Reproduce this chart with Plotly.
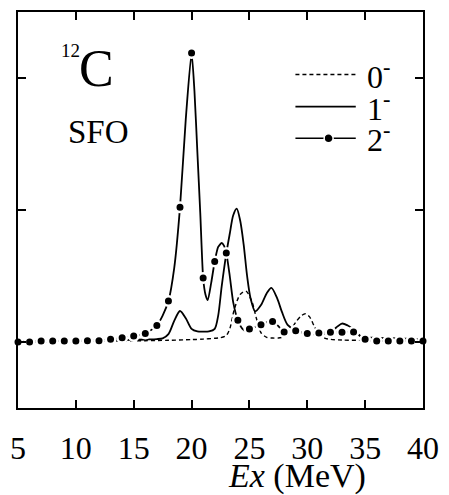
import plotly.graph_objects as go

# ---- data ----
# 0- strength (dashed)
e0 = [5, 8, 10, 12, 14, 16, 18, 20, 21, 22, 22.5, 23, 23.3, 23.7, 24.2, 24.7, 25.2, 25.6, 26, 26.5,
      27, 27.5, 28, 28.5, 29, 29.5, 29.85, 30.2, 30.6, 31, 31.5, 32, 33, 35, 37, 40]
s0 = [0.0, 0.002, 0.004, 0.006, 0.008, 0.01, 0.013, 0.018, 0.022, 0.028, 0.033, 0.05, 0.1, 0.25, 0.36,
      0.385, 0.31, 0.18, 0.07, 0.035, 0.03, 0.03, 0.04, 0.08, 0.15, 0.2, 0.214, 0.19, 0.12, 0.06, 0.03,
      0.02, 0.015, 0.012, 0.01, 0.008]

# 1- strength (solid)
e1 = [5, 7, 9, 11, 13, 15, 16, 17, 17.5, 18, 18.5, 19, 19.5, 20, 20.5, 21, 21.5, 22, 22.3, 22.6, 23,
      23.3, 23.6, 23.9, 24.2, 24.5, 24.8, 25.1, 25.5, 26, 26.5, 26.9, 27.4, 27.8, 28.3, 29, 30, 31, 32,
      32.5, 33, 33.5, 34, 34.6, 35, 36, 38, 40]
s1 = [0.005, 0.006, 0.008, 0.01, 0.012, 0.016, 0.019, 0.022, 0.028, 0.06, 0.16, 0.235, 0.18, 0.1, 0.08,
      0.078, 0.08, 0.1, 0.2, 0.42, 0.67, 0.82, 0.96, 1.01, 0.92, 0.74, 0.5, 0.33, 0.232, 0.28, 0.37, 0.41,
      0.33, 0.23, 0.13, 0.088, 0.063, 0.058, 0.07, 0.11, 0.14, 0.125, 0.096, 0.045, 0.035, 0.032, 0.027,
      0.02]

# 2- strength (line with dots at integer energies)
e2 = [5, 6, 7, 8, 9, 10, 11, 12, 13, 14, 15, 16, 16.5, 17, 17.5, 18, 18.5, 19, 19.5, 20, 20.25, 20.5,
      20.75, 21, 21.2, 21.4, 21.7, 22, 22.3, 22.6, 22.8, 23, 23.3, 23.6, 24, 24.4, 24.7, 25, 25.5, 26,
      26.5, 27, 27.5, 28, 28.5, 29, 29.5, 30, 31, 32, 33, 34, 34.5, 35, 36, 37, 38, 39, 40]
s2 = [0.0, 0.0, 0.008, 0.008, 0.008, 0.008, 0.009, 0.01, 0.02, 0.033, 0.045, 0.065, 0.09, 0.125, 0.2,
      0.31, 0.56, 1.02, 1.69, 2.19, 1.9, 1.44, 0.98, 0.485, 0.36, 0.317, 0.45, 0.61, 0.72, 0.75, 0.73,
      0.675, 0.5, 0.3, 0.165, 0.1, 0.085, 0.098, 0.115, 0.13, 0.15, 0.155, 0.12, 0.075, 0.078, 0.085,
      0.075, 0.065, 0.068, 0.073, 0.074, 0.076, 0.05, 0.02, 0.008, 0.008, 0.008, 0.008, 0.008]

x_ticks = [5, 10, 15, 20, 25, 30, 35, 40]
y_ticks = [0, 1, 2]
legend_labels = ["0<sup>-</sup>", "1<sup>-</sup>", "2<sup>-</sup>"]

FONT = "Liberation Serif, Times New Roman, serif"

# dots of the 2- curve: the integer energies of the same series
e2_dots = [e for e in e2 if float(e).is_integer()]
s2_dots = [s for e, s in zip(e2, s2) if float(e).is_integer()]

fig = go.Figure()
fig.add_trace(go.Scatter(x=e0, y=s0, mode="lines", line=dict(color="black", width=1.4, dash="4px,3px", shape="spline", smoothing=0.8), showlegend=False))
fig.add_trace(go.Scatter(x=e1, y=s1, mode="lines", line=dict(color="black", width=1.8, shape="spline", smoothing=0.8), showlegend=False))
fig.add_trace(go.Scatter(x=e2, y=s2, mode="lines", line=dict(color="black", width=1.8, shape="spline", smoothing=0.6), showlegend=False))
fig.add_trace(go.Scatter(x=e2_dots, y=s2_dots, mode="markers", cliponaxis=False,
                         marker=dict(color="black", size=9.5, line=dict(color="white", width=2.5)), showlegend=False))

# ---- manual legend ----
leg_x0, leg_x1 = 0.685, 0.834
leg_y = [0.842, 0.761, 0.681]
dashes = ["4px,3px", "solid", "solid"]
for yy, dsh in zip(leg_y, dashes):
    fig.add_shape(type="line", xref="paper", yref="paper", x0=leg_x0, x1=leg_x1, y0=yy, y1=yy,
                  line=dict(color="black", width=1.6, dash=dsh))
fig.add_shape(type="circle", xref="paper", yref="paper", xsizemode="pixel", ysizemode="pixel",
              xanchor=0.767, yanchor=leg_y[2], x0=-4.5, x1=4.5, y0=-4.5, y1=4.5,
              fillcolor="black", line=dict(color="white", width=1.5))
for yy, lab in zip(leg_y, legend_labels):
    fig.add_annotation(x=0.858, y=yy, xref="paper", yref="paper", text=lab, showarrow=False,
                       xanchor="left", yanchor="middle", font=dict(family=FONT, size=32, color="black"))

# ---- labels ----
fig.add_annotation(x=0.1286, y=0.903, xref="paper", yref="paper", text="12", showarrow=False,
                   xanchor="center", yanchor="middle", font=dict(family=FONT, size=19, color="black"))
fig.add_annotation(x=0.195, y=0.858, xref="paper", yref="paper", text="C", showarrow=False,
                   xanchor="center", yanchor="middle", font=dict(family=FONT, size=52, color="black"))
fig.add_annotation(x=0.1995, y=0.696, xref="paper", yref="paper", text="SFO", showarrow=False,
                   xanchor="center", yanchor="middle", font=dict(family=FONT, size=33, color="black"))
fig.add_annotation(x=0.69, y=-0.171, xref="paper", yref="paper", text="<i>Ex</i> (MeV)", showarrow=False,
                   xanchor="center", yanchor="middle", font=dict(family=FONT, size=34, color="black"))

fig.update_xaxes(range=[5, 40], tickvals=x_ticks, ticktext=[str(v) for v in x_ticks],
                 ticks="inside", ticklen=8, tickwidth=2, tickcolor="black",
                 showline=True, linecolor="black", linewidth=2, mirror="ticks",
                 showgrid=False, zeroline=False, ticklabelstandoff=11,
                 tickfont=dict(family=FONT, size=32, color="black"))
fig.update_yaxes(range=[-0.5, 2.5], tickvals=y_ticks, showticklabels=False,
                 ticks="inside", ticklen=8, tickwidth=2, tickcolor="black",
                 showline=True, linecolor="black", linewidth=2, mirror="ticks",
                 showgrid=False, zeroline=False)

fig.update_layout(width=449, height=495, margin=dict(l=13, r=20, t=10, b=87),
                  paper_bgcolor="white", plot_bgcolor="white", showlegend=False,
                  font=dict(family=FONT, color="black"))

fig.write_html("out.html")
